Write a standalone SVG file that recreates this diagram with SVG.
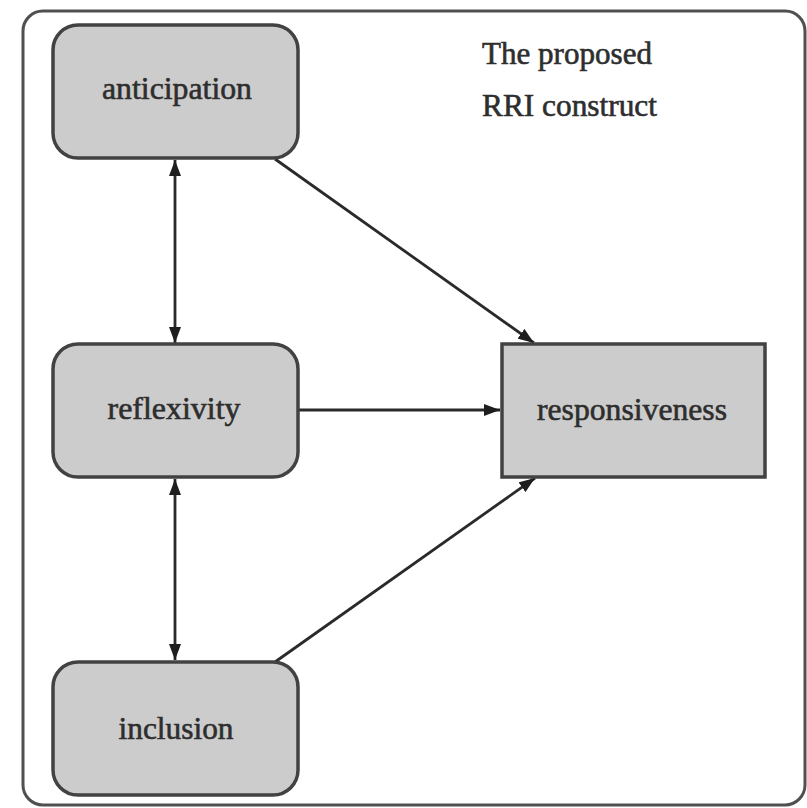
<svg xmlns="http://www.w3.org/2000/svg" width="807" height="808" viewBox="0 0 807 808">
<defs>
<style>
.frame{fill:#ffffff;stroke:#505050;stroke-width:3}
.node{fill:#cccccc;stroke:#424242;stroke-width:3.5}
.lbl{font-family:"Liberation Serif","Times New Roman",serif;font-size:32px;fill:#2e2e2e;stroke:#2e2e2e;stroke-width:0.6;text-anchor:middle}
.title{font-family:"Liberation Serif","Times New Roman",serif;font-size:31px;fill:#2e2e2e;stroke:#2e2e2e;stroke-width:0.6}
.conn{stroke:#2a2a2a;stroke-width:2.8;fill:none}
</style>
<marker id="ah" markerUnits="userSpaceOnUse" markerWidth="16" markerHeight="12" refX="16" refY="6" orient="auto-start-reverse">
<path d="M0,0 L16,6 L0,12 z" fill="#1e1e1e"/>
</marker>
</defs>
<rect width="807" height="808" fill="#ffffff"/>
<rect class="frame" x="23" y="11" width="782" height="794" rx="20" ry="20"/>
<g id="title">
<text class="title" x="482" y="64" textLength="170" lengthAdjust="spacingAndGlyphs">The proposed</text>
<text class="title" x="482" y="116" textLength="175" lengthAdjust="spacingAndGlyphs">RRI construct</text>
</g>
<g id="connectors">
<line class="conn" x1="175" y1="160" x2="175" y2="343" marker-start="url(#ah)" marker-end="url(#ah)"/>
<line class="conn" x1="175" y1="479" x2="175" y2="660" marker-start="url(#ah)" marker-end="url(#ah)"/>
<line class="conn" x1="299" y1="410" x2="500" y2="410" marker-end="url(#ah)"/>
<line class="conn" x1="275" y1="159" x2="534" y2="343" marker-end="url(#ah)"/>
<line class="conn" x1="275" y1="662" x2="535" y2="478" marker-end="url(#ah)"/>
</g>
<g id="anticipation">
<rect class="node" x="53" y="25" width="245" height="133" rx="25" ry="25"/>
<text class="lbl" x="177" y="99" textLength="150" lengthAdjust="spacingAndGlyphs">anticipation</text>
</g>
<g id="reflexivity">
<rect class="node" x="53" y="344" width="245" height="133" rx="25" ry="25"/>
<text class="lbl" x="174" y="419" textLength="133" lengthAdjust="spacingAndGlyphs">reflexivity</text>
</g>
<g id="inclusion">
<rect class="node" x="53" y="662" width="245" height="133" rx="25" ry="25"/>
<text class="lbl" x="176" y="739" textLength="115" lengthAdjust="spacingAndGlyphs">inclusion</text>
</g>
<g id="responsiveness">
<rect class="node" x="502" y="344" width="263" height="133"/>
<text class="lbl" x="632" y="420" textLength="190" lengthAdjust="spacingAndGlyphs">responsiveness</text>
</g>
</svg>
